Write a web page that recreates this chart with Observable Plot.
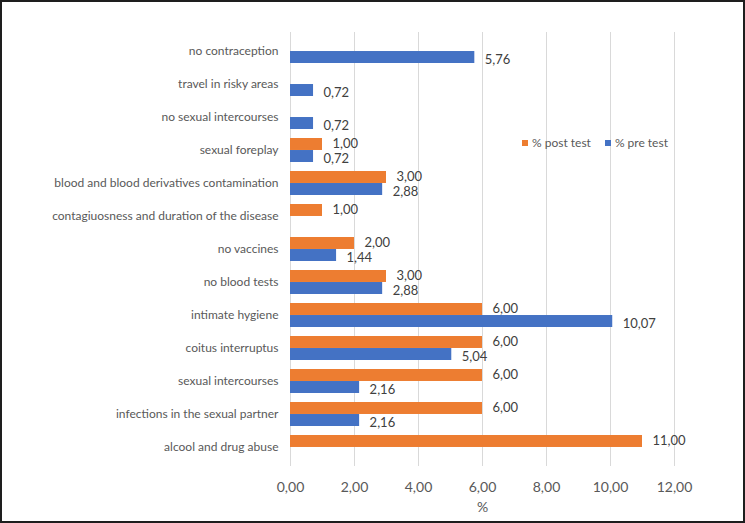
<!DOCTYPE html>
<html>
<head>
<meta charset="utf-8">
<script src="https://cdn.jsdelivr.net/npm/d3@7"></script>
<script src="https://cdn.jsdelivr.net/npm/@observablehq/plot@0.6"></script>
<style>
  html, body { margin: 0; padding: 0; background: #fff; }
  #wrap { position: relative; width: 745px; height: 523px; overflow: hidden; font-family: Lato, "Open Sans", sans-serif; }
  #frame { position: absolute; left: 0; top: 0; width: 745px; height: 523px; box-sizing: border-box; border: 2px solid #1e1e1e; pointer-events: none; }
  #legend { position: absolute; left: 522px; top: 135px; font-size: 12px; color: #595959; display: flex; gap: 14px; align-items: center; }
  #legend .item { display: flex; align-items: center; gap: 4px; }
  #legend .sw { width: 6px; height: 6px; display: inline-block; }
  svg { position: absolute; left: 0; top: 0; }
</style>
</head>
<body>
<div id="wrap">
  <div id="chart"></div>
  <div id="legend"></div>
  <div id="frame"></div>
</div>
<script>
const categories = [
  "no contraception",
  "travel in risky areas",
  "no sexual intercourses",
  "sexual foreplay",
  "blood and blood derivatives contamination",
  "contagiuosness and duration of the disease",
  "no vaccines",
  "no blood tests",
  "intimate hygiene",
  "coitus interruptus",
  "sexual intercourses",
  "infections in the sexual partner",
  "alcool and drug abuse"
];
const postTest = [null, null, null, 1.00, 3.00, 1.00, 2.00, 3.00, 6.00, 6.00, 6.00, 6.00, 11.00];
const preTest  = [5.76, 0.72, 0.72, 0.72, 2.88, null, 1.44, 2.88, 10.07, 5.04, 2.16, 2.16, null];
const seriesNames = ["% post test", "% pre test"];
const seriesColors = ["#ED7D31", "#4472C4"];
const xTicks = [0, 2, 4, 6, 8, 10, 12];
const xLabel = "%";

const rows = [];
categories.forEach((c, i) => {
  if (postTest[i] != null) rows.push({category: c, series: seriesNames[0], value: postTest[i]});
  if (preTest[i] != null) rows.push({category: c, series: seriesNames[1], value: preTest[i]});
});
const postRows = rows.filter(d => d.series === seriesNames[0]);
const preRows = rows.filter(d => d.series === seriesNames[1]);

const fmt = v => d3.format(".2f")(v).replace(".", ",");

const W = 745, H = 523;
const mTop = 32, mBottom = 57, mLeft = 290, mRight = 71;
const pad = 0.28;
const step = (H - mTop - mBottom) / categories.length;
const half = step * (1 - pad) / 2;
const textColor = "#595959";

const chart = Plot.plot({
  width: W,
  height: H,
  marginTop: mTop,
  marginBottom: mBottom,
  marginLeft: mLeft,
  marginRight: mRight,
  style: {fontFamily: "Lato, 'Open Sans', sans-serif", color: textColor, background: "transparent"},
  x: {domain: [0, 12], ticks: xTicks, label: xLabel},
  y: {domain: categories, paddingInner: pad, paddingOuter: pad / 2, label: null},
  color: {domain: seriesNames, range: seriesColors},
  marks: [
    Plot.ruleX(xTicks, {stroke: "#d9d9d9", strokeWidth: 1}),
    Plot.barX(postRows, {x: "value", y: "category", fill: "series", insetBottom: half}),
    Plot.barX(preRows, {x: "value", y: "category", fill: "series", insetTop: half}),
    Plot.text(postRows, {x: "value", y: "category", text: d => fmt(d.value), textAnchor: "start", dx: 10, dy: -half / 2 - 1, fontSize: 13, fill: "#404040"}),
    Plot.text(preRows, {x: "value", y: "category", text: d => fmt(d.value), textAnchor: "start", dx: 10, dy: half / 2 + 2.5, fontSize: 13, fill: "#404040"}),
    Plot.axisY({tickSize: 0, tickPadding: 12, fontSize: 12, fill: textColor, label: null}),
    Plot.axisX({ticks: xTicks, tickSize: 0, tickPadding: 16, fontSize: 14, fill: textColor, tickFormat: fmt,
      label: xLabel, labelAnchor: "center", labelOffset: 45, labelArrow: "none"})
  ]
});
document.getElementById("chart").appendChild(chart);

const legend = document.getElementById("legend");
seriesNames.forEach((s, i) => {
  const item = document.createElement("span");
  item.className = "item";
  const sw = document.createElement("span");
  sw.className = "sw";
  sw.style.background = seriesColors[i];
  const t = document.createElement("span");
  t.textContent = s;
  item.appendChild(sw);
  item.appendChild(t);
  legend.appendChild(item);
});
</script>
</body>
</html>
